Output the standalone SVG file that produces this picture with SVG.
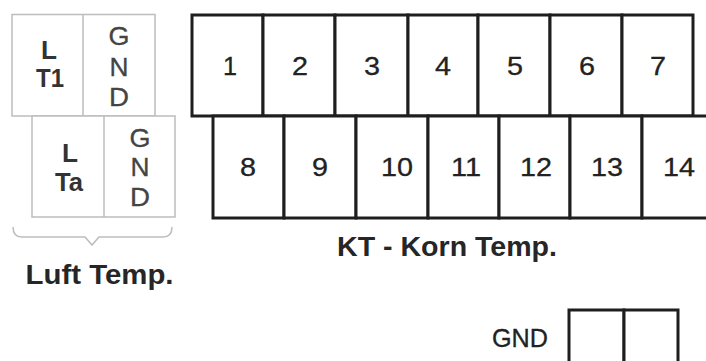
<svg xmlns="http://www.w3.org/2000/svg" width="706" height="361" viewBox="0 0 706 361">
<style>
.g{fill:#fff;stroke:#bdbdbd;stroke-width:1.5}
.gl{stroke:#bdbdbd;stroke-width:1.5;fill:none}
.k{fill:#fff;stroke:#1e1e1e;stroke-width:3}
.kl{stroke:#1e1e1e;stroke-width:3;fill:none}
.n{font-family:"Liberation Sans",Arial,sans-serif;font-size:25px;fill:#222;stroke:#222;stroke-width:0.3;text-anchor:middle}
.lb{font-family:"Liberation Sans",Arial,sans-serif;font-size:26px;font-weight:bold;fill:#333;text-anchor:middle}
.lg{font-family:"Liberation Sans",Arial,sans-serif;font-size:25px;fill:#444;stroke:#444;stroke-width:0.3;text-anchor:middle}
.t{font-family:"Liberation Sans",Arial,sans-serif;font-size:27px;font-weight:bold;fill:#262626;text-anchor:middle}
</style>
<rect width="706" height="361" fill="#fff"/>
<g id="luft_t1">
<rect class="g" x="12" y="14.5" width="143" height="101.5"/>
<line class="gl" x1="83" y1="14.5" x2="83" y2="116"/>
<text class="lb" x="49" y="59" textLength="16" lengthAdjust="spacingAndGlyphs">L</text>
<text class="lb" x="50" y="87" textLength="28" lengthAdjust="spacingAndGlyphs">T1</text>
<text class="lg" x="119" y="45" textLength="21" lengthAdjust="spacingAndGlyphs">G</text>
<text class="lg" x="119" y="76" textLength="19" lengthAdjust="spacingAndGlyphs">N</text>
<text class="lg" x="119" y="106" textLength="20" lengthAdjust="spacingAndGlyphs">D</text>
</g>
<g id="luft_ta">
<rect class="g" x="32" y="116" width="143" height="101"/>
<line class="gl" x1="104" y1="116" x2="104" y2="217"/>
<text class="lb" x="70" y="162" textLength="16" lengthAdjust="spacingAndGlyphs">L</text>
<text class="lb" x="69" y="191" textLength="28" lengthAdjust="spacingAndGlyphs">Ta</text>
<text class="lg" x="140" y="147" textLength="21" lengthAdjust="spacingAndGlyphs">G</text>
<text class="lg" x="140" y="176" textLength="19" lengthAdjust="spacingAndGlyphs">N</text>
<text class="lg" x="140" y="206" textLength="20" lengthAdjust="spacingAndGlyphs">D</text>
</g>
<g id="luft_label">
<path class="gl" d="M13,227 Q13,237 22,237 L85,237 L92,245 L99,237 L163,237 Q172,237 172,227"/>
<text class="t" x="99.5" y="284" textLength="148" lengthAdjust="spacingAndGlyphs">Luft Temp.</text>
</g>
<g id="t1"><rect class="k" x="192" y="15" width="71" height="101"/><text class="n" x="230" y="75" textLength="14" lengthAdjust="spacingAndGlyphs">1</text></g>
<g id="t2"><rect class="k" x="263" y="15" width="72" height="101"/><text class="n" x="300" y="75" textLength="16" lengthAdjust="spacingAndGlyphs">2</text></g>
<g id="t3"><rect class="k" x="335" y="15" width="73" height="101"/><text class="n" x="372" y="75" textLength="16" lengthAdjust="spacingAndGlyphs">3</text></g>
<g id="t4"><rect class="k" x="408" y="15" width="70" height="101"/><text class="n" x="443" y="75" textLength="16" lengthAdjust="spacingAndGlyphs">4</text></g>
<g id="t5"><rect class="k" x="478" y="15" width="72" height="101"/><text class="n" x="515" y="75" textLength="16" lengthAdjust="spacingAndGlyphs">5</text></g>
<g id="t6"><rect class="k" x="550" y="15" width="72" height="101"/><text class="n" x="587" y="75" textLength="16" lengthAdjust="spacingAndGlyphs">6</text></g>
<g id="t7"><rect class="k" x="622" y="15" width="71" height="101"/><text class="n" x="658" y="75" textLength="16" lengthAdjust="spacingAndGlyphs">7</text></g>
<g id="t8"><rect class="k" x="213" y="116" width="71" height="102"/><text class="n" x="248" y="176" textLength="16" lengthAdjust="spacingAndGlyphs">8</text></g>
<g id="t9"><rect class="k" x="284" y="116" width="72" height="102"/><text class="n" x="320" y="176" textLength="16" lengthAdjust="spacingAndGlyphs">9</text></g>
<g id="t10"><rect class="k" x="356" y="116" width="72" height="102"/><text class="n" x="397" y="176" textLength="32" lengthAdjust="spacingAndGlyphs">10</text></g>
<g id="t11"><rect class="k" x="428" y="116" width="71" height="102"/><text class="n" x="466" y="176" textLength="30" lengthAdjust="spacingAndGlyphs">11</text></g>
<g id="t12"><rect class="k" x="499" y="116" width="71" height="102"/><text class="n" x="536" y="176" textLength="32" lengthAdjust="spacingAndGlyphs">12</text></g>
<g id="t13"><rect class="k" x="570" y="116" width="72" height="102"/><text class="n" x="607" y="176" textLength="32" lengthAdjust="spacingAndGlyphs">13</text></g>
<g id="t14"><rect class="k" x="642" y="116" width="72" height="102"/><text class="n" x="679" y="176" textLength="32" lengthAdjust="spacingAndGlyphs">14</text></g>
<g id="kt_label">
<text class="t" x="447" y="256" textLength="220" lengthAdjust="spacingAndGlyphs">KT - Korn Temp.</text>
</g>
<g id="gnd">
<text class="n" x="520" y="347" textLength="56" lengthAdjust="spacingAndGlyphs">GND</text>
<rect class="k" x="569" y="310" width="55" height="60"/>
<rect class="k" x="624" y="310" width="54" height="60"/>
</g>
</svg>
